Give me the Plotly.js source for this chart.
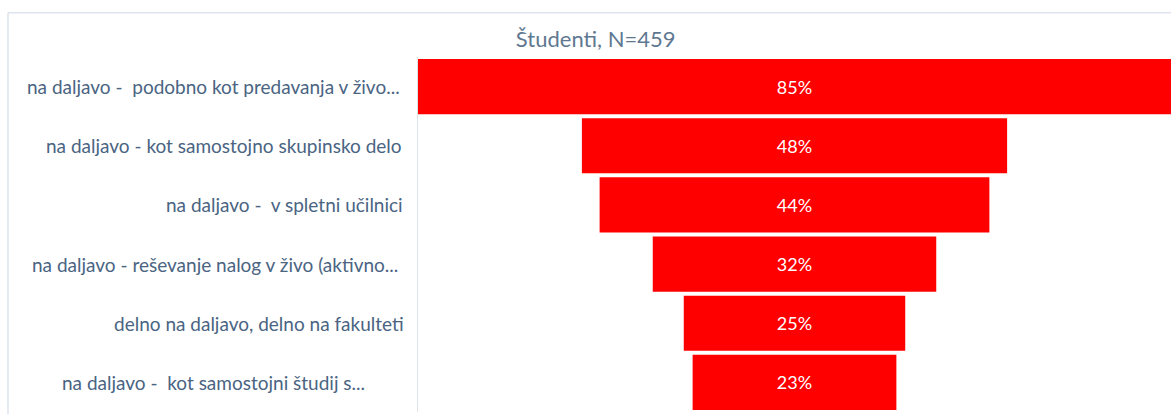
<!DOCTYPE html>
<html>
<head>
<meta charset="utf-8">
<script src="https://cdn.plot.ly/plotly-3.0.1.min.js"></script>
<style>html,body{margin:0;padding:0;background:#fff;overflow:hidden}#chart{width:1171px;height:414px}</style>
</head>
<body>
<div id="chart"></div>
<script>
var categories = [
  "na daljavo -  podobno kot predavanja v živo...",
  "na daljavo - kot samostojno skupinsko delo",
  "na daljavo -  v spletni učilnici",
  "na daljavo - reševanje nalog v živo (aktivno...",
  "delno na daljavo, delno na fakulteti",
  "na daljavo -  kot samostojni študij s..."
];
var values = [85, 48, 44, 32, 25, 23];
var chartTitle = "Študenti, N=459";

// label right-edge offsets (px), styling only
var labelShift = [-4, -2, -1, -6, 0, -39];

var labelFont = {family: 'Lato, "Open Sans", sans-serif', size: 19, color: '#4a6482'};

var trace = {
  type: 'funnel',
  y: categories,
  x: values,
  marker: {color: '#ff0000', line: {width: 0}},
  connector: {visible: false},
  texttemplate: '%{x}%',
  textposition: 'inside',
  insidetextanchor: 'middle',
  textfont: {family: 'Lato, "Open Sans", sans-serif', size: 18, color: '#ffffff'},
  hoverinfo: 'x+y',
  cliponaxis: false
};

var annotations = categories.map(function (c, i) {
  return {
    text: c, x: 0, xref: 'paper', xanchor: 'right', xshift: -12 + labelShift[i],
    y: c, yref: 'y', yanchor: 'middle', showarrow: false, font: labelFont
  };
});

var layout = {
  width: 1171,
  height: 414,
  margin: {l: 418, r: 0, t: 57, b: 2},
  paper_bgcolor: '#ffffff',
  plot_bgcolor: '#ffffff',
  showlegend: false,
  funnelgap: 0.068,
  title: {
    text: chartTitle,
    font: {family: 'Lato, "Open Sans", sans-serif', size: 22, color: '#5f7891'},
    x: 0.236, xref: 'paper', xanchor: 'center',
    y: 0.905, yref: 'container', yanchor: 'middle'
  },
  xaxis: {
    range: [-42.5, 42.5],
    visible: false,
    fixedrange: true
  },
  yaxis: {
    autorange: 'reversed',
    showline: true,
    linecolor: '#dfe4ea',
    linewidth: 1.5,
    showgrid: false,
    zeroline: false,
    ticks: '',
    showticklabels: false
  },
  annotations: annotations,
  shapes: [
    {type: 'line', xref: 'paper', yref: 'paper', x0: -0.5445, x1: 1.01, y0: 1.125, y1: 1.125,
     line: {color: '#dde4ee', width: 1.5}},
    {type: 'line', xref: 'paper', yref: 'paper', x0: -0.5445, x1: -0.5445, y0: -0.01, y1: 1.125,
     line: {color: '#dde4ee', width: 1.5}}
  ]
};

Plotly.newPlot('chart', [trace], layout, {displayModeBar: false, staticPlot: true});
</script>
</body>
</html>
